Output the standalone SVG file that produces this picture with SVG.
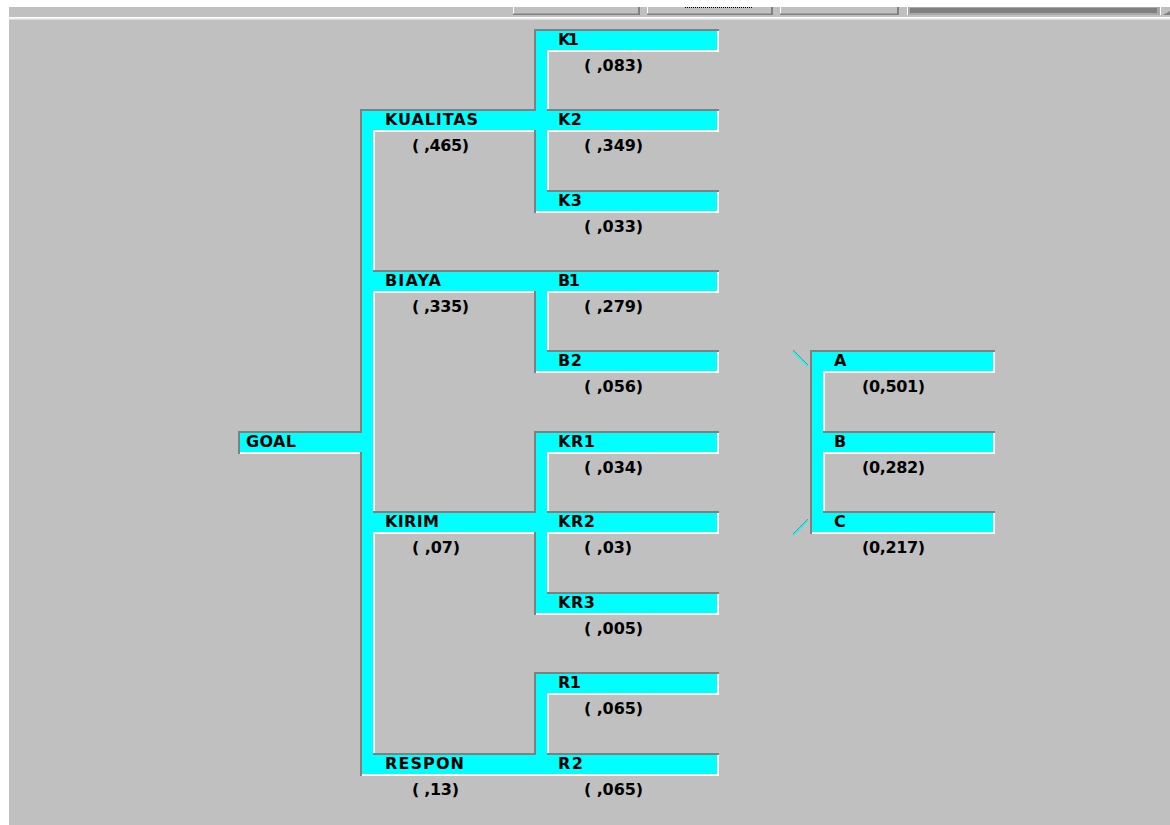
<svg xmlns="http://www.w3.org/2000/svg" width="1170" height="825" viewBox="0 0 1170 825">
<style>
.w{fill:#ffffff}
.d{fill:#808080}
.c{fill:#00ffff}
.bg{fill:#c0c0c0}
text{font-family:"DejaVu Sans","Liberation Sans",sans-serif;font-weight:bold;font-size:16px;fill:#000}
</style>
<rect x="0" y="0" width="1170" height="825" fill="#ffffff"/>
<rect class="bg" x="9" y="7" width="1161" height="10"/>
<rect x="9" y="17" width="1161" height="1.5" fill="#ffffff"/>
<rect x="9" y="18.5" width="1161" height="1.5" fill="#dcdcdc"/>
<rect class="bg" x="9" y="20" width="1161" height="805"/>
<g id="toolbar">
<rect class="bg" x="513" y="7" width="127" height="8"/>
<rect class="w" x="513" y="7" width="1" height="8"/>
<rect class="d" x="638" y="7" width="2" height="8"/>
<rect class="d" x="513" y="13.5" width="127" height="1.5"/>
<rect class="bg" x="647" y="7" width="126" height="8"/>
<rect class="w" x="647" y="7" width="1" height="8"/>
<rect class="d" x="771" y="7" width="2" height="8"/>
<rect class="d" x="647" y="13.5" width="126" height="1.5"/>
<line x1="685" y1="7.5" x2="753" y2="7.5" stroke="#000" stroke-width="1" stroke-dasharray="1 1"/>
<rect class="bg" x="780" y="7" width="119" height="8"/>
<rect class="w" x="780" y="7" width="1" height="8"/>
<rect class="d" x="897" y="7" width="2" height="8"/>
<rect class="d" x="780" y="13.5" width="119" height="1.5"/>
<rect x="907" y="7" width="253" height="8" fill="#a8a8a8"/>
<rect class="w" x="907" y="7" width="1" height="8"/>
<rect class="d" x="910" y="8" width="247" height="5"/>
<rect class="w" x="1160" y="7" width="1" height="8"/>
<polygon points="1163,15 1170,11 1170,15" fill="#808080"/>
</g>
<g id="bevels">
<rect class="w" x="373" y="111" width="2" height="665"/>
<rect class="w" x="547" y="31" width="2" height="182"/>
<rect class="w" x="547" y="272" width="2" height="101"/>
<rect class="w" x="547" y="433" width="2" height="182"/>
<rect class="w" x="547" y="674" width="2" height="102"/>
<rect class="w" x="823" y="352" width="2" height="182"/>
<rect class="w" x="240" y="452" width="125" height="2"/>
<rect class="w" x="362" y="130" width="177" height="2"/>
<rect class="w" x="362" y="291" width="177" height="2"/>
<rect class="w" x="362" y="532" width="177" height="2"/>
<rect class="w" x="362" y="774" width="177" height="2"/>
<rect class="w" x="536" y="50" width="183" height="2"/><rect class="w" x="717" y="31" width="2" height="21"/>
<rect class="w" x="536" y="130" width="183" height="2"/><rect class="w" x="717" y="111" width="2" height="21"/>
<rect class="w" x="536" y="211" width="183" height="2"/><rect class="w" x="717" y="192" width="2" height="21"/>
<rect class="w" x="536" y="291" width="183" height="2"/><rect class="w" x="717" y="272" width="2" height="21"/>
<rect class="w" x="536" y="371" width="183" height="2"/><rect class="w" x="717" y="352" width="2" height="21"/>
<rect class="w" x="536" y="452" width="183" height="2"/><rect class="w" x="717" y="433" width="2" height="21"/>
<rect class="w" x="536" y="532" width="183" height="2"/><rect class="w" x="717" y="513" width="2" height="21"/>
<rect class="w" x="536" y="613" width="183" height="2"/><rect class="w" x="717" y="594" width="2" height="21"/>
<rect class="w" x="536" y="693" width="183" height="2"/><rect class="w" x="717" y="674" width="2" height="21"/>
<rect class="w" x="536" y="774" width="183" height="2"/><rect class="w" x="717" y="755" width="2" height="21"/>
<rect class="w" x="812" y="371" width="183" height="2"/><rect class="w" x="993" y="352" width="2" height="21"/>
<rect class="w" x="812" y="452" width="183" height="2"/><rect class="w" x="993" y="433" width="2" height="21"/>
<rect class="w" x="812" y="532" width="183" height="2"/><rect class="w" x="993" y="513" width="2" height="21"/>
<rect class="d" x="360" y="109" width="2" height="667"/>
<rect class="d" x="534" y="29" width="2" height="182"/>
<rect class="d" x="534" y="270" width="2" height="101"/>
<rect class="d" x="534" y="431" width="2" height="182"/>
<rect class="d" x="534" y="672" width="2" height="102"/>
<rect class="d" x="810" y="350" width="2" height="182"/>
<rect class="d" x="238" y="431" width="125" height="2"/>
<rect class="d" x="238" y="431" width="2" height="23"/>
<rect class="d" x="360" y="109" width="179" height="2"/>
<rect class="d" x="360" y="270" width="179" height="2"/>
<rect class="d" x="360" y="511" width="179" height="2"/>
<rect class="d" x="360" y="753" width="179" height="2"/>
<rect class="d" x="534" y="29" width="185" height="2"/>
<rect class="d" x="534" y="109" width="185" height="2"/>
<rect class="d" x="534" y="190" width="185" height="2"/><rect class="d" x="534" y="190" width="2" height="23"/>
<rect class="d" x="534" y="270" width="185" height="2"/>
<rect class="d" x="534" y="350" width="185" height="2"/><rect class="d" x="534" y="350" width="2" height="23"/>
<rect class="d" x="534" y="431" width="185" height="2"/>
<rect class="d" x="534" y="511" width="185" height="2"/>
<rect class="d" x="534" y="592" width="185" height="2"/><rect class="d" x="534" y="592" width="2" height="23"/>
<rect class="d" x="534" y="672" width="185" height="2"/>
<rect class="d" x="534" y="753" width="185" height="2"/>
<rect class="d" x="810" y="350" width="185" height="2"/>
<rect class="d" x="810" y="431" width="185" height="2"/>
<rect class="d" x="810" y="511" width="185" height="2"/><rect class="d" x="810" y="511" width="2" height="23"/>
</g>
<g id="connectors">
<rect class="c" x="362" y="111" width="11" height="663"/>
<rect class="c" x="536" y="31" width="11" height="180"/>
<rect class="c" x="536" y="272" width="11" height="99"/>
<rect class="c" x="536" y="433" width="11" height="180"/>
<rect class="c" x="536" y="674" width="11" height="100"/>
<rect class="c" x="812" y="352" width="11" height="180"/>
<line x1="793" y1="350" x2="808" y2="365" stroke="#808080" stroke-width="1"/>
<line x1="793" y1="351.5" x2="808" y2="366.5" stroke="#00ffff" stroke-width="1.5"/>
<line x1="793" y1="534" x2="808" y2="519" stroke="#808080" stroke-width="1"/>
<line x1="793" y1="535.5" x2="808" y2="520.5" stroke="#00ffff" stroke-width="1.5"/>
</g>
<g id="goal"><rect class="c" x="240" y="433" width="123" height="19"/><text x="246" y="447" textLength="50" lengthAdjust="spacing">GOAL</text></g>
<g id="kualitas"><rect class="c" x="362" y="111" width="175" height="19"/><text x="385" y="125" textLength="93" lengthAdjust="spacing">KUALITAS</text><text x="412" y="151" textLength="57" lengthAdjust="spacing">( ,465)</text></g>
<g id="biaya"><rect class="c" x="362" y="272" width="175" height="19"/><text x="385" y="286" textLength="56" lengthAdjust="spacing">BIAYA</text><text x="412" y="312" textLength="57" lengthAdjust="spacing">( ,335)</text></g>
<g id="kirim"><rect class="c" x="362" y="513" width="175" height="19"/><text x="385" y="527" textLength="54" lengthAdjust="spacing">KIRIM</text><text x="412" y="553" textLength="48" lengthAdjust="spacing">( ,07)</text></g>
<g id="respon"><rect class="c" x="362" y="755" width="175" height="19"/><text x="385" y="769" textLength="79" lengthAdjust="spacing">RESPON</text><text x="412" y="795" textLength="47" lengthAdjust="spacing">( ,13)</text></g>
<g id="k1"><rect class="c" x="536" y="31" width="181" height="19"/><text x="558" y="45" textLength="21" lengthAdjust="spacing">K1</text><text x="584" y="71" textLength="59" lengthAdjust="spacing">( ,083)</text></g>
<g id="k2"><rect class="c" x="536" y="111" width="181" height="19"/><text x="558" y="125" textLength="24" lengthAdjust="spacing">K2</text><text x="584" y="151" textLength="59" lengthAdjust="spacing">( ,349)</text></g>
<g id="k3"><rect class="c" x="536" y="192" width="181" height="19"/><text x="558" y="206" textLength="24" lengthAdjust="spacing">K3</text><text x="584" y="232" textLength="59" lengthAdjust="spacing">( ,033)</text></g>
<g id="b1"><rect class="c" x="536" y="272" width="181" height="19"/><text x="558" y="286" textLength="22" lengthAdjust="spacing">B1</text><text x="584" y="312" textLength="59" lengthAdjust="spacing">( ,279)</text></g>
<g id="b2"><rect class="c" x="536" y="352" width="181" height="19"/><text x="558" y="366" textLength="24" lengthAdjust="spacing">B2</text><text x="584" y="392" textLength="59" lengthAdjust="spacing">( ,056)</text></g>
<g id="kr1"><rect class="c" x="536" y="433" width="181" height="19"/><text x="558" y="447" textLength="37" lengthAdjust="spacing">KR1</text><text x="584" y="473" textLength="59" lengthAdjust="spacing">( ,034)</text></g>
<g id="kr2"><rect class="c" x="536" y="513" width="181" height="19"/><text x="558" y="527" textLength="37" lengthAdjust="spacing">KR2</text><text x="584" y="553" textLength="48" lengthAdjust="spacing">( ,03)</text></g>
<g id="kr3"><rect class="c" x="536" y="594" width="181" height="19"/><text x="558" y="608" textLength="37" lengthAdjust="spacing">KR3</text><text x="584" y="634" textLength="59" lengthAdjust="spacing">( ,005)</text></g>
<g id="r1"><rect class="c" x="536" y="674" width="181" height="19"/><text x="558" y="688" textLength="23" lengthAdjust="spacing">R1</text><text x="584" y="714" textLength="59" lengthAdjust="spacing">( ,065)</text></g>
<g id="r2"><rect class="c" x="536" y="755" width="181" height="19"/><text x="558" y="769" textLength="25" lengthAdjust="spacing">R2</text><text x="584" y="795" textLength="59" lengthAdjust="spacing">( ,065)</text></g>
<g id="alt-a"><rect class="c" x="812" y="352" width="181" height="19"/><text x="834" y="366" textLength="14" lengthAdjust="spacing">A</text><text x="862" y="392" textLength="63" lengthAdjust="spacing">(0,501)</text></g>
<g id="alt-b"><rect class="c" x="812" y="433" width="181" height="19"/><text x="834" y="447" textLength="13" lengthAdjust="spacing">B</text><text x="862" y="473" textLength="63" lengthAdjust="spacing">(0,282)</text></g>
<g id="alt-c"><rect class="c" x="812" y="513" width="181" height="19"/><text x="834" y="527" textLength="14" lengthAdjust="spacing">C</text><text x="862" y="553" textLength="63" lengthAdjust="spacing">(0,217)</text></g>
</svg>
